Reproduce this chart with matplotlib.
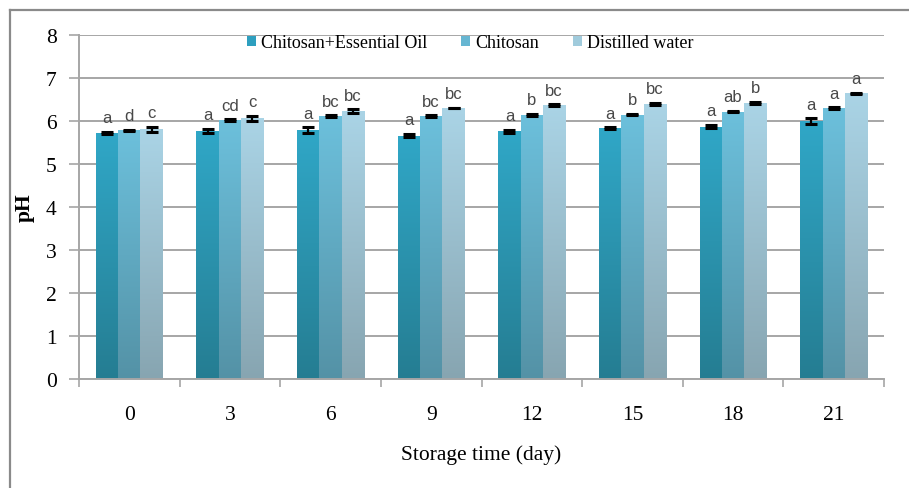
import numpy as np
import matplotlib
matplotlib.use("Agg")
import matplotlib.pyplot as plt
from matplotlib.patches import Patch
from matplotlib.colors import LinearSegmentedColormap
from matplotlib.lines import Line2D

days = ["0", "3", "6", "9", "12", "15", "18", "21"]
series_names = ["Chitosan+Essential Oil", "Chitosan", "Distilled water"]
ceo = [5.72, 5.76, 5.79, 5.66, 5.76, 5.83, 5.87, 6.00]
chi = [5.78, 6.02, 6.11, 6.11, 6.14, 6.15, 6.22, 6.30]
dw = [5.81, 6.06, 6.23, 6.30, 6.37, 6.40, 6.42, 6.64]
ceo_err = [0.03, 0.05, 0.06, 0.04, 0.04, 0.02, 0.04, 0.06]
chi_err = [0.02, 0.02, 0.02, 0.02, 0.02, 0.02, 0.02, 0.02]
dw_err = [0.06, 0.06, 0.04, 0.0, 0.02, 0.03, 0.03, 0.02]
ceo_let = ["a", "a", "a", "a", "a", "a", "a", "a"]
chi_let = ["d", "cd", "bc", "bc", "b", "b", "ab", "a"]
dw_let = ["c", "c", "bc", "bc", "bc", "bc", "b", "a"]

values = [ceo, chi, dw]
errors = [ceo_err, chi_err, dw_err]
letters = [ceo_let, chi_let, dw_let]
tops = ["#30a7c7", "#6cc0dc", "#aad4e6"]
bottoms = ["#257d92", "#5492a6", "#87a5b1"]
legend_cols = ["#2e9fbf", "#66b6d2", "#a0cbdc"]

W, H = 909, 489
fig = plt.figure(figsize=(W / 100, H / 100), dpi=100)
ax = fig.add_axes([79 / W, 1 - 380 / H, (884 - 79) / W, (380 - 36) / H])

x = np.arange(len(days))
bw = 0.222
offsets = [-bw, 0, bw]
grid_c = "#a6a6a6"

for s in range(3):
    bars = ax.bar(x + offsets[s], values[s], width=bw, facecolor="none",
                  edgecolor="none", zorder=2)
    cmap = LinearSegmentedColormap.from_list("g%d" % s, [bottoms[s], tops[s]])
    grad = np.linspace(0, 1, 256).reshape(-1, 1)
    for b in bars:
        x0, y0 = b.get_x(), b.get_y()
        im = ax.imshow(grad, cmap=cmap, origin="lower", aspect="auto",
                       extent=[x0, x0 + b.get_width(), y0, y0 + b.get_height()],
                       zorder=2, interpolation="bilinear")
        im.set_clip_path(b)
    ax.errorbar(x + offsets[s], values[s], yerr=errors[s], fmt="none",
                ecolor="black", elinewidth=1.6, capsize=4, capthick=2.2, zorder=4)
    for i in range(len(days)):
        ax.annotate(letters[s][i], (x[i] + offsets[s], values[s][i] + errors[s][i]),
                    xytext=(0, 7), textcoords="offset points", ha="center",
                    va="baseline", fontsize=12, color="#484848",
                    family="Liberation Sans", zorder=5)

ax.set_xlim(-0.5, len(days) - 0.5)
ax.set_ylim(0, 8)
ax.set_yticks(range(0, 9))
ax.yaxis.grid(True, color=grid_c, linewidth=1.4)
ax.set_axisbelow(True)

ax.set_xticks(np.arange(-0.5, len(days), 1.0))
ax.set_xticklabels([])
ax.set_xticks(x, minor=True)
ax.set_xticklabels(days, minor=True, family="Liberation Serif", fontsize=15.5)
ax.tick_params(axis="x", which="major", length=6, color=grid_c, width=1.2, direction="out")
ax.tick_params(axis="x", which="minor", length=0, pad=19)
ax.tick_params(axis="y", length=7, color=grid_c, width=1.2, pad=9)
for lab in ax.get_yticklabels():
    lab.set_family("Liberation Serif")
    lab.set_fontsize(15.5)

for side in ["top", "right"]:
    ax.spines[side].set_visible(False)
for side in ["left", "bottom"]:
    ax.spines[side].set_color(grid_c)
    ax.spines[side].set_linewidth(1.4)

ax.set_xlabel("Storage time (day)", family="Liberation Serif", fontsize=15.5, labelpad=14)
ax.set_ylabel("pH", family="Liberation Serif", fontsize=15.5, fontweight="bold", labelpad=8)

handles = [Patch(facecolor=c, edgecolor="none") for c in legend_cols]
leg = ax.legend(handles, series_names, loc="center", bbox_to_anchor=(0.486, 0.977),
                ncol=3, frameon=False, handlelength=0.5, handleheight=0.5,
                handletextpad=0.3, columnspacing=1.85,
                prop={"family": "Liberation Serif", "size": 13})

fig.add_artist(Line2D([9.5 / W, 9.5 / W], [0, 1 - 10.5 / H], transform=fig.transFigure,
                      color="#8a8a8a", linewidth=1.6))
fig.add_artist(Line2D([9.5 / W, 1], [1 - 10.5 / H, 1 - 10.5 / H], transform=fig.transFigure,
                      color="#8a8a8a", linewidth=1.6))

fig.savefig("out.png", dpi=100)
